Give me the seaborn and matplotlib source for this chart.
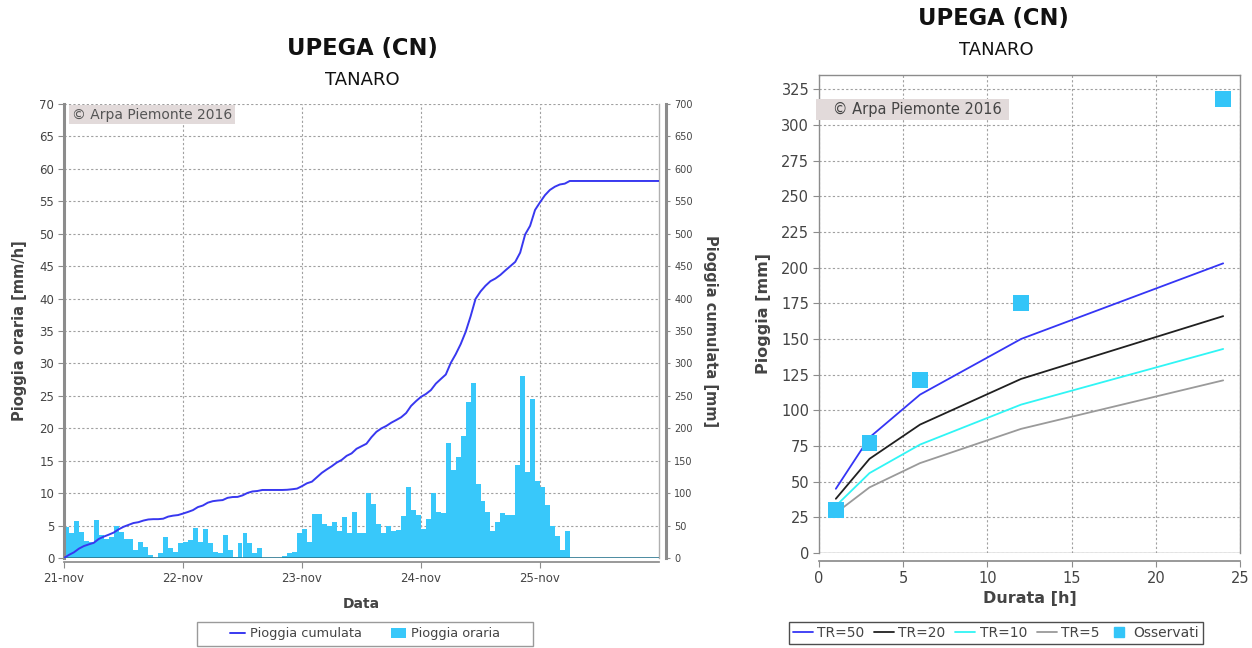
import numpy as np
import pandas as pd
import matplotlib
matplotlib.use("Agg")
import matplotlib.pyplot as plt
from matplotlib.lines import Line2D
from matplotlib.patches import Patch, Rectangle
import seaborn as sns

# Hourly rainfall [mm/h], one value per hour starting 21-nov 00:00
rain_21nov = [4.8, 3.9, 5.7, 4.0, 2.6, 2.4, 5.9, 3.6, 3.0, 3.2, 5.0, 4.0,
              2.9, 2.9, 1.3, 2.5, 1.7, 0.5, 0.0, 0.7, 3.2, 1.5, 0.9, 2.3]
rain_22nov = [2.5, 2.8, 4.7, 2.4, 4.4, 2.3, 1.0, 0.7, 3.5, 1.2, 0.2, 2.3,
              3.8, 2.3, 0.7, 1.6, 0.0, 0.0, 0.0, 0.0, 0.3, 0.8, 1.0, 3.8]
rain_23nov = [4.4, 2.5, 6.8, 6.8, 5.3, 4.9, 5.6, 4.1, 6.3, 3.8, 7.1, 3.9,
              3.9, 10.0, 8.3, 5.3, 3.8, 5.0, 4.1, 4.3, 6.5, 11.0, 7.4, 6.6]
rain_24nov = [4.4, 6.0, 10.0, 7.1, 6.9, 17.8, 13.5, 15.5, 18.8, 24.0, 27.0, 11.4,
              8.8, 7.1, 4.1, 5.5, 6.9, 6.6, 6.6, 14.3, 28.0, 13.3, 24.5, 11.8]
rain_25nov = [11.0, 8.1, 5.0, 3.4, 1.3, 4.1, 0.0, 0.0, 0.0, 0.0, 0.0, 0.0,
              0.0, 0.0, 0.0, 0.0, 0.0, 0.0, 0.0, 0.0, 0.0, 0.0, 0.0, 0.0]
day_labels = ["21-nov", "22-nov", "23-nov", "24-nov", "25-nov"]

# Depth-duration curves for return periods and observed maxima
durations = [1, 3, 6, 12, 24]
tr50 = [45, 81, 111, 150, 203]
tr20 = [38, 66, 90, 122, 166]
tr10 = [33, 56, 76, 104, 143]
tr5 = [28, 46, 63, 87, 121]
observed = [30, 77, 121, 175, 318]

station = "UPEGA (CN)"
basin = "TANARO"
credit = "\u00a9 Arpa Piemonte 2016"

sns.set_theme(style="white")
plt.rcParams["font.family"] = ["DejaVu Sans"]

BAR = "#38c8fa"
LINE = "#3838f0"
GRID = "#a0a0a0"
TXT = "#444444"
SPINE = "#8c8c8c"

fig = plt.figure(figsize=(12.52, 6.48), dpi=100)
W, H = 1252, 648


def box(x0, y0, x1, y1):
    return [x0 / W, 1 - y1 / H, (x1 - x0) / W, (y1 - y0) / H]


# ---------------- left: hourly and cumulative rain ----------------
rain = np.array(rain_21nov + rain_22nov + rain_23nov + rain_24nov + rain_25nov)
n = len(rain)
t_start = np.arange(n) / 24.0
hourly = pd.DataFrame({"t": t_start + 0.5 / 24, "rain": rain})
cum = pd.DataFrame({"t": np.concatenate([[0.0], (np.arange(n) + 1) / 24.0]),
                    "cum": np.concatenate([[0.0], np.cumsum(rain)])})

ax = fig.add_axes(box(64, 104, 659, 558))
ax2 = ax.twinx()
ax.set_zorder(ax2.get_zorder() - 1)
ax2.patch.set_visible(False)

sns.histplot(data=hourly, x="t", weights="rain", binwidth=1 / 24.0,
             binrange=(0, n / 24.0), ax=ax, color=BAR, alpha=1.0,
             linewidth=0)
ax.axhline(0, color="#2d7891", lw=1.2, zorder=3)
sns.lineplot(data=cum, x="t", y="cum", ax=ax2, color=LINE, lw=1.4,
             estimator=None)

ax.set_xlim(0, 5)
ax.set_ylim(0, 70)
ax2.set_ylim(0, 700)
ax.set_xticks(range(len(day_labels)))
ax.set_xticklabels(day_labels)
ax.set_yticks(np.arange(0, 71, 5))
ax2.set_yticks(np.arange(0, 701, 50))
ax.grid(True, color=GRID, ls=(0, (2, 2)), lw=0.8)
ax2.grid(False)

for s in ["top"]:
    ax.spines[s].set_visible(False)
    ax2.spines[s].set_visible(False)
ax.spines["left"].set_color(SPINE)
ax.spines["left"].set_linewidth(2.2)
ax.spines["right"].set_color("#b0b0b0")
ax.spines["right"].set_linewidth(1.0)
ax.spines["bottom"].set_color(SPINE)
ax.spines["bottom"].set_position(("outward", 3))
ax2.spines["left"].set_visible(False)
ax2.spines["bottom"].set_visible(False)
ax2.spines["right"].set_position(("outward", 5))
ax2.spines["right"].set_color(SPINE)
ax2.spines["right"].set_linewidth(2.2)

ax.tick_params(axis="y", which="both", left=True, length=4, width=0.8,
               color=SPINE, labelsize=8.5, labelcolor=TXT, pad=3)
ax.tick_params(axis="x", bottom=True, length=4, width=0.8, color=SPINE,
               labelsize=8.5, labelcolor=TXT, pad=3)
ax2.tick_params(axis="y", right=True, length=3, width=0.8, color=SPINE,
                labelsize=7, labelcolor=TXT, pad=3)

ax.set_xlabel("Data", fontsize=10, fontweight="bold", color=TXT)
ax.xaxis.set_label_coords(0.5, -0.085)
ax.set_ylabel("Pioggia oraria [mm/h]", fontsize=10.5, fontweight="bold",
              color=TXT)
ax.yaxis.set_label_coords(-0.063, 0.5)
ax2.set_ylabel("Pioggia cumulata [mm]", fontsize=10.5, fontweight="bold",
               color=TXT, rotation=270, va="bottom")
ax2.yaxis.set_label_coords(1.074, 0.5)

ax.text(0.013, 0.992, credit, transform=ax.transAxes, ha="left", va="top",
        fontsize=10, color="#555555", zorder=5,
        bbox=dict(boxstyle="square,pad=0.2", fc="#e2dada", ec="none"))

fig.text(362 / W, 1 - 48 / H, station, ha="center", va="center",
         fontsize=16.3, fontweight="bold", color="#111111")
fig.text(362 / W, 1 - 80 / H, basin, ha="center", va="center",
         fontsize=13, color="#111111")

fig.patches.append(Rectangle((197 / W, 1 - 646 / H), 336 / W, 24 / H,
                             transform=fig.transFigure, fill=False,
                             ec="#9a9a9a", lw=1.0))
leg_handles = [Line2D([], [], color=LINE, lw=1.4),
               Patch(facecolor=BAR, edgecolor="none")]
fig.legend(leg_handles, ["Pioggia cumulata", "Pioggia oraria"],
           loc="center", bbox_to_anchor=(365 / W, 1 - 634 / H), ncol=2,
           fontsize=9.3, frameon=False, handlelength=1.2,
           handleheight=0.9, columnspacing=2.2, borderpad=0.3,
           handletextpad=0.4, labelcolor=TXT)

# ---------------- right: depth-duration curves ----------------
bx = fig.add_axes(box(819, 75, 1240, 553))
curves = pd.DataFrame({
    "durata": durations * 4,
    "pioggia": tr50 + tr20 + tr10 + tr5,
    "serie": ["TR=50"] * 5 + ["TR=20"] * 5 + ["TR=10"] * 5 + ["TR=5"] * 5,
})
palette = {"TR=50": "#3535f5", "TR=20": "#202020", "TR=10": "#30f5f5",
           "TR=5": "#9a9a9a"}
sns.lineplot(data=curves, x="durata", y="pioggia", hue="serie",
             palette=palette, ax=bx, lw=1.3, estimator=None, legend=False)
obs = pd.DataFrame({"durata": durations, "pioggia": observed})
sns.scatterplot(data=obs, x="durata", y="pioggia", ax=bx, marker="s",
                s=130, color="#33c5f8", edgecolor="none", zorder=5)

bx.set_xlim(0, 25)
bx.set_ylim(0, 335)
bx.set_xticks(np.arange(0, 26, 5))
bx.set_yticks(np.arange(0, 326, 25))
bx.grid(True, color=GRID, ls=(0, (2, 2)), lw=0.8)
bx.axhline(0, color=SPINE, lw=1.0, zorder=1)
for s in ["left", "right", "top"]:
    bx.spines[s].set_color(SPINE)
    bx.spines[s].set_linewidth(1.0)
bx.spines["bottom"].set_color(SPINE)
bx.spines["bottom"].set_position(("outward", 6))
bx.tick_params(axis="both", length=4, width=0.8, color=SPINE, left=True,
               bottom=True, labelsize=10.5, labelcolor=TXT, pad=3)
bx.set_xlabel("Durata [h]", fontsize=11.5, fontweight="bold", color=TXT)
bx.xaxis.set_label_coords(0.5, -0.08)
bx.set_ylabel("Pioggia [mm]", fontsize=11.5, fontweight="bold", color=TXT)
bx.yaxis.set_label_coords(-0.115, 0.5)

bx.text(0.0, 0.927, "   " + credit + " ", transform=bx.transAxes, ha="left",
        va="center", fontsize=10.5, color="#444444", zorder=5,
        bbox=dict(boxstyle="square,pad=0.2", fc="#e2dada", ec="none"))

fig.text(993 / W, 1 - 18 / H, station, ha="center", va="center",
         fontsize=16.3, fontweight="bold", color="#111111")
fig.text(996 / W, 1 - 50 / H, basin, ha="center", va="center",
         fontsize=13, color="#111111")

r_handles = [Line2D([], [], color=palette[k], lw=1.3)
             for k in ["TR=50", "TR=20", "TR=10", "TR=5"]]
r_handles.append(Line2D([], [], color="#33c5f8", marker="s", ls="none",
                        markersize=7))
fig.legend(r_handles, ["TR=50", "TR=20", "TR=10", "TR=5", "Osservati"],
           loc="center", bbox_to_anchor=(996 / W, 1 - 633 / H), ncol=5,
           fontsize=10, frameon=True, fancybox=False, edgecolor="#222222",
           handlelength=1.45, columnspacing=0.7, borderpad=0.3,
           handletextpad=0.3, labelcolor=TXT)

fig.savefig("out.png", dpi=100)
